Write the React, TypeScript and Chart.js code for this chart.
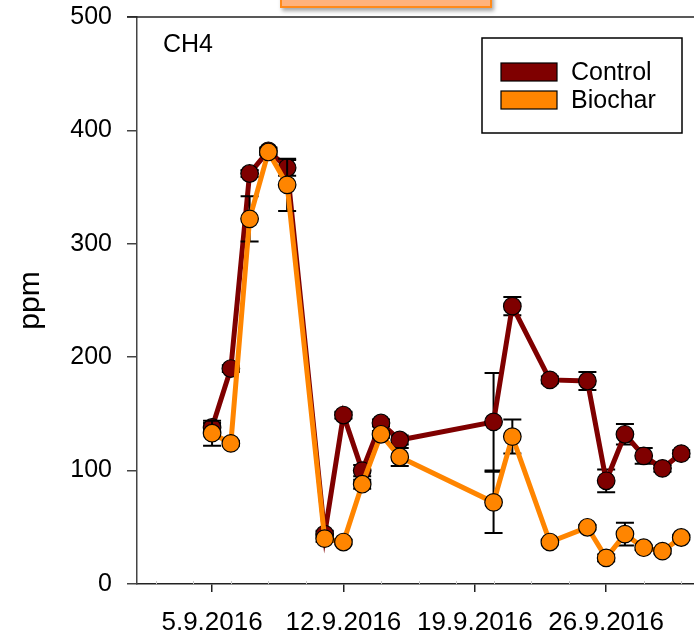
import React, { useEffect, useRef } from 'react';
import { Chart, registerables } from 'chart.js';

Chart.register(...registerables);

// Day of September 2016 for each sampling
const days = [5, 6, 7, 8, 9, 11, 12, 13, 14, 15, 20, 21, 23, 25, 26, 27, 28, 29, 30];
const controlValues = [138, 190, 362, 382, 367, 44, 149, 100, 142, 127, 143, 245, 180, 179, 91, 132, 113, 102, 115];
const controlErrors = [4, 3, 3, 3, 7, 3, 3, 5, 3, 4, 43, 8, 3, 8, 10, 9, 7, 3, 3];
const biocharValues = [133, 124, 322, 381, 352, 40, 37, 88, 132, 112, 72, 130, 37, 50, 23, 44, 32, 29, 41];
const biocharErrors = [11, 2, 20, 3, 23, 3, 2, 4, 3, 8, 27, 15, 2, 2, 3, 10, 2, 2, 2];
const xTickDays = [5, 12, 19, 26];
const xTickLabels = ['5.9.2016', '12.9.2016', '19.9.2016', '26.9.2016'];
const xMinorDays = [2, 4, 6, 8, 10, 12, 14, 16, 18, 20, 22, 24, 26, 28, 30];
const yTicks = [0, 100, 200, 300, 400, 500];
const seriesLabels = ['Control', 'Biochar'];
const seriesColors = ['#7f0000', '#ff8500'];
const panelLabel = 'CH4';
const yTitle = 'ppm';

const FONT = "'Liberation Sans', Arial, sans-serif";

const errorBarPlugin = {
  id: 'errorBars',
  beforeDatasetDraw(chart: any, args: any) {
    const ds = chart.data.datasets[args.index];
    const errs: number[] = ds.errors || [];
    const meta = args.meta;
    const ys = chart.scales.y;
    const ctx = chart.ctx;
    ctx.save();
    ctx.strokeStyle = '#000';
    ctx.lineWidth = 2;
    meta.data.forEach((pt: any, i: number) => {
      const v = ds.data[i].y;
      const e = errs[i] || 0;
      const x = pt.x;
      const yt = ys.getPixelForValue(v + e);
      const yb = ys.getPixelForValue(v - e);
      ctx.beginPath();
      ctx.moveTo(x, yt);
      ctx.lineTo(x, yb);
      ctx.moveTo(x - 9, yt);
      ctx.lineTo(x + 9, yt);
      ctx.moveTo(x - 9, yb);
      ctx.lineTo(x + 9, yb);
      ctx.stroke();
    });
    ctx.restore();
  },
};

const decorPlugin = {
  id: 'decor',
  afterDraw(chart: any) {
    const { ctx, chartArea } = chart;
    const { left, top, right, bottom } = chartArea;
    const xs = chart.scales.x;
    ctx.save();
    // top border
    ctx.strokeStyle = '#222';
    ctx.lineWidth = 1.5;
    ctx.beginPath();
    ctx.moveTo(left - 10, top);
    ctx.lineTo(right, top);
    ctx.stroke();
    // faint minor ticks
    ctx.strokeStyle = '#c8c8c8';
    ctx.lineWidth = 1;
    xMinorDays.forEach((d) => {
      if (xTickDays.includes(d)) return;
      const px = Math.round(xs.getPixelForValue(d)) + 0.5;
      ctx.beginPath();
      ctx.moveTo(px, bottom - 3);
      ctx.lineTo(px, bottom);
      ctx.stroke();
    });
    // panel label
    ctx.fillStyle = '#000';
    ctx.font = `25px ${FONT}`;
    ctx.textBaseline = 'alphabetic';
    ctx.textAlign = 'left';
    ctx.fillText(panelLabel, left + 26, top + 35);
    // legend
    const bx = left + 345;
    const by = top + 21;
    ctx.fillStyle = '#fff';
    ctx.fillRect(bx, by, 200, 95);
    ctx.strokeStyle = '#000';
    ctx.lineWidth = 1.5;
    ctx.strokeRect(bx, by, 200, 95);
    seriesLabels.forEach((lab, i) => {
      const sy = by + 25 + i * 28;
      ctx.fillStyle = seriesColors[i];
      ctx.fillRect(bx + 19, sy, 56, 18);
      ctx.strokeStyle = '#000';
      ctx.lineWidth = 1.2;
      ctx.strokeRect(bx + 19, sy, 56, 18);
      ctx.fillStyle = '#000';
      ctx.textBaseline = 'middle';
      ctx.font = `25px ${FONT}`;
      ctx.fillText(lab, bx + 89, sy + 10);
    });
    ctx.restore();
  },
};

export default function App() {
  const canvasRef = useRef<HTMLCanvasElement | null>(null);

  useEffect(() => {
    if (!canvasRef.current) return;
    Chart.defaults.font.family = FONT;
    const mk = (vals: number[], errs: number[], i: number, order: number) => ({
      label: seriesLabels[i],
      data: days.map((d, k) => ({ x: d, y: vals[k] })),
      errors: errs,
      borderColor: seriesColors[i],
      backgroundColor: seriesColors[i],
      borderWidth: 5,
      tension: 0,
      pointRadius: 8.8,
      pointBorderColor: '#000',
      pointBorderWidth: 1.2,
      pointBackgroundColor: seriesColors[i],
      order,
    });
    const chart = new Chart(canvasRef.current, {
      type: 'line',
      data: {
        datasets: [
          mk(controlValues, controlErrors, 0, 2),
          mk(biocharValues, biocharErrors, 1, 1),
        ] as any,
      },
      options: {
        animation: false,
        responsive: true,
        maintainAspectRatio: false,
        events: [],
        layout: { padding: { left: 0, right: 6, top: 17, bottom: 0 } },
        plugins: {
          legend: { display: false },
          tooltip: { enabled: false },
          title: { display: false },
        },
        scales: {
          x: {
            type: 'linear',
            min: 1,
            max: 31,
            afterBuildTicks: (scale: any) => {
              scale.ticks = xTickDays.map((v) => ({ value: v }));
            },
            afterFit: (scale: any) => {
              scale.height = 51;
              scale.paddingLeft = 0;
              scale.paddingRight = 0;
            },
            ticks: {
              autoSkip: false,
              maxRotation: 0,
              padding: 15,
              color: '#000',
              font: { size: 26 },
              callback: (v: any) => {
                const i = xTickDays.indexOf(Number(v));
                return i >= 0 ? xTickLabels[i] : '';
              },
            },
            grid: {
              drawOnChartArea: false,
              drawTicks: true,
              tickLength: 8,
              color: '#222',
              lineWidth: 1.5,
            },
            border: { display: true, color: '#222', width: 1.5 },
          },
          y: {
            type: 'linear',
            min: 0,
            max: 500,
            afterBuildTicks: (scale: any) => {
              scale.ticks = yTicks.map((v) => ({ value: v }));
            },
            afterFit: (scale: any) => {
              scale.width = 137;
              scale.paddingTop = 0;
              scale.paddingBottom = 0;
            },
            ticks: {
              padding: 15,
              color: '#000',
              font: { size: 25 },
            },
            grid: {
              drawOnChartArea: false,
              drawTicks: true,
              tickLength: 10,
              color: '#444',
              lineWidth: 1.5,
            },
            border: { display: true, color: '#444', width: 1.5 },
            title: {
              display: true,
              text: yTitle,
              color: '#000',
              font: { size: 30 },
              padding: { top: 13, bottom: 0 },
            },
          },
        },
      },
      plugins: [errorBarPlugin, decorPlugin],
    });
    return () => chart.destroy();
  }, []);

  return (
    <div
      style={{
        position: 'fixed',
        left: 0,
        top: 0,
        width: 694,
        height: 635,
        overflow: 'hidden',
        background: '#fff',
      }}
    >
      <div style={{ position: 'absolute', left: 0, top: 0, width: 710, height: 635 }}>
        <canvas ref={canvasRef} />
      </div>
      <div
        style={{
          position: 'absolute',
          left: 280,
          top: -20,
          width: 208,
          height: 24,
          background: '#ffb27c',
          border: '2px solid #ff8a1a',
          boxShadow: '2px 3px 4px rgba(0,0,0,0.35)',
        }}
      />
    </div>
  );
}
